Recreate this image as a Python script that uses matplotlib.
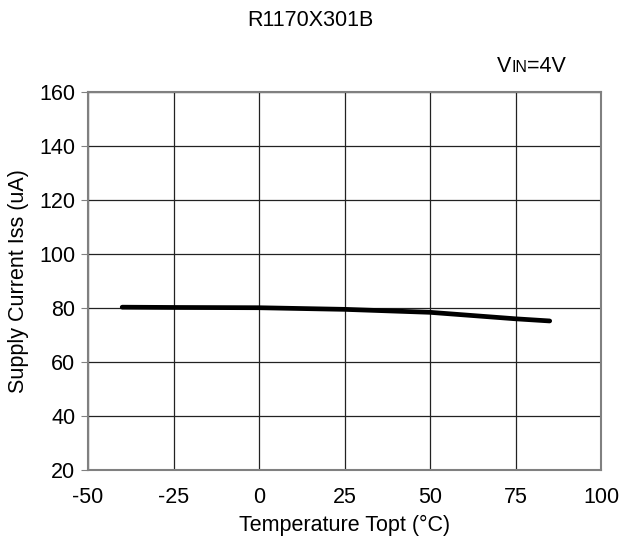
#!/usr/bin/env python3
"""Supply current vs temperature for R1170X301B (VIN=4V)."""

import matplotlib

matplotlib.use("Agg")
import matplotlib.pyplot as plt
from matplotlib.transforms import offset_copy

TITLE = "R1170X301B"
X_LABEL = "Temperature Topt (\u00b0C)"
Y_LABEL = "Supply Current Iss (uA)"

temperature = [-40, -25, 0, 25, 50, 75, 85]
supply_current = [80.3, 80.2, 80.1, 79.5, 78.4, 76.0, 75.2]

x_ticks = [-50, -25, 0, 25, 50, 75, 100]
y_ticks = [20, 40, 60, 80, 100, 120, 140, 160]

plt.rcParams["font.family"] = ["Liberation Sans", "DejaVu Sans"]
plt.rcParams["font.size"] = 15.5
plt.rcParams["axes.unicode_minus"] = False

fig = plt.figure(figsize=(6.2, 5.45), dpi=100)
# axes box: x 88..601 px, y 92..470 px
ax = fig.add_axes([88 / 620, 1 - 470 / 545, 513 / 620, 378 / 545])

ax.plot(temperature, supply_current, color="black", linewidth=3.4,
        solid_capstyle="round", zorder=3)

ax.set_xlim(-50, 100)
ax.set_ylim(20, 160)
ax.set_xticks(x_ticks)
ax.set_yticks(y_ticks)
ax.grid(True, color="#222222", linewidth=0.9)
for spine in ax.spines.values():
    spine.set_color("#808080")
    spine.set_linewidth(1.5)
ax.tick_params(axis="y", direction="out", length=5, color="#808080", pad=4)
ax.tick_params(axis="x", length=0, pad=12)

ax.set_xlabel(X_LABEL, va="center")
ax.xaxis.set_label_coords(0.5, -0.146)
ax.set_ylabel(Y_LABEL, va="center")
ax.yaxis.set_label_coords(-0.136, 0.5)

fig.text(0.5, 0.963, TITLE, ha="center", va="center")

# VIN=4V with small "IN" on the baseline
x0, y0 = 0.802, 0.868
t1 = fig.text(x0, y0, "V", ha="left", va="baseline")
fig.canvas.draw()
r = fig.canvas.get_renderer()
w1 = t1.get_window_extent(r).width
t2 = fig.text(x0, y0, "IN", ha="left", va="baseline", fontsize=11.5,
              transform=offset_copy(fig.transFigure, fig=fig, x=w1, y=0, units="dots"))
fig.canvas.draw()
w2 = t2.get_window_extent(r).width
fig.text(x0, y0, "=4V", ha="left", va="baseline",
         transform=offset_copy(fig.transFigure, fig=fig, x=w1 + w2, y=0, units="dots"))

fig.savefig("out.png", dpi=100)
